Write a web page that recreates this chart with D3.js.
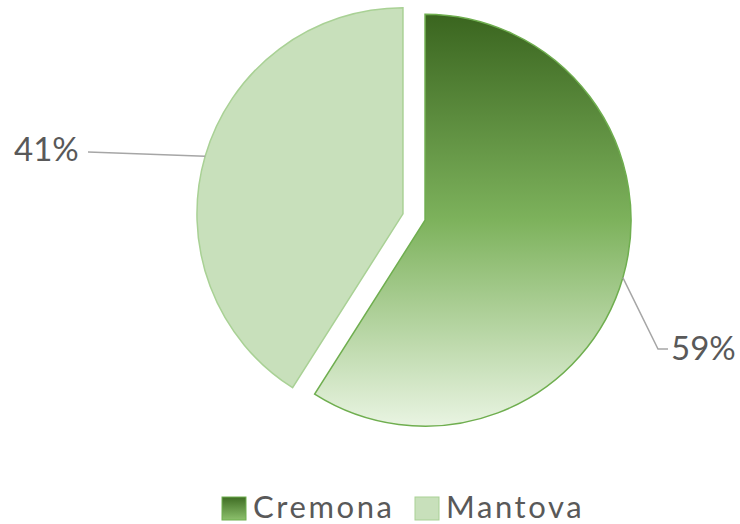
<!DOCTYPE html>
<html>
<head>
<meta charset="utf-8">
<script src="https://cdn.jsdelivr.net/npm/d3@7"></script>
<style>
  body { margin: 0; background: #fff; }
  svg { display: block; }
  text { font-family: Lato, "Open Sans", sans-serif; fill: #595959; }
</style>
</head>
<body>
<svg id="chart" width="740" height="524"></svg>
<script>
// data
var categories = ["Cremona", "Mantova"];
var shares = [59, 41];
var labels = ["59%", "41%"];

var svg = d3.select("#chart"),
    cs = {
        cx: 414, cy: 217, r: 206, explode: 11.5,
        stroke: ["#6fae4f", "#a9d195"],
        labelPos: [[671, 349], [14, 150]],
        elbow: [[658, 349], [88, 152]]
    };

var defs = svg.append("defs");
var grad = defs.append("linearGradient").attr("id", "gCrem")
    .attr("x1", 0).attr("y1", 0).attr("x2", 0).attr("y2", 1);
grad.append("stop").attr("offset", "0%").attr("stop-color", "#3a651f");
grad.append("stop").attr("offset", "50%").attr("stop-color", "#7db25c");
grad.append("stop").attr("offset", "100%").attr("stop-color", "#e9f4e2");

var lgrad = defs.append("linearGradient").attr("id", "gCremLeg")
    .attr("x1", 0).attr("y1", 0).attr("x2", 0).attr("y2", 1);
lgrad.append("stop").attr("offset", "0%").attr("stop-color", "#3f6d24");
lgrad.append("stop").attr("offset", "100%").attr("stop-color", "#8cc06c");

var fills = ["url(#gCrem)", "#c8e0bb"];
var legendFills = ["url(#gCremLeg)", "#c8e0bb"];

var pie = d3.pie().sort(null).value(d => d)(shares);
var arc = d3.arc().innerRadius(0).outerRadius(cs.r);

pie.forEach(function (p, i) {
    var mid = (p.startAngle + p.endAngle) / 2,
        ox = cs.cx + Math.sin(mid) * cs.explode,
        oy = cs.cy - Math.cos(mid) * cs.explode;
    var g = svg.append("g").attr("transform", "translate(" + ox + "," + oy + ")");
    g.append("path")
        .attr("d", arc(p))
        .attr("fill", fills[i])
        .attr("stroke", cs.stroke[i])
        .attr("stroke-width", 1.5);

    // leader line
    var ex = ox + Math.sin(mid) * cs.r,
        ey = oy - Math.cos(mid) * cs.r;
    var pts = i === 0
        ? [[ex, ey], cs.elbow[0], [cs.labelPos[0][0] - 3, cs.elbow[0][1]]]
        : [[ex, ey], cs.elbow[1]];
    svg.append("path")
        .attr("d", d3.line()(pts))
        .attr("fill", "none")
        .attr("stroke", "#a6a6a6")
        .attr("stroke-width", 1.5);
    svg.append("text")
        .attr("x", cs.labelPos[i][0])
        .attr("y", cs.labelPos[i][1] + 11)
        .attr("font-size", 33)
        .text(labels[i]);
});

// legend
var legX = [222, 415];
categories.forEach(function (c, i) {
    svg.append("rect")
        .attr("x", legX[i]).attr("y", 497)
        .attr("width", 24).attr("height", 23)
        .attr("fill", legendFills[i])
        .attr("stroke", cs.stroke[i])
        .attr("stroke-width", 1);
    svg.append("text")
        .attr("x", legX[i] + 31).attr("y", 518)
        .attr("font-size", 31)
        .attr("letter-spacing", 2.6)
        .text(c);
});
</script>
</body>
</html>
